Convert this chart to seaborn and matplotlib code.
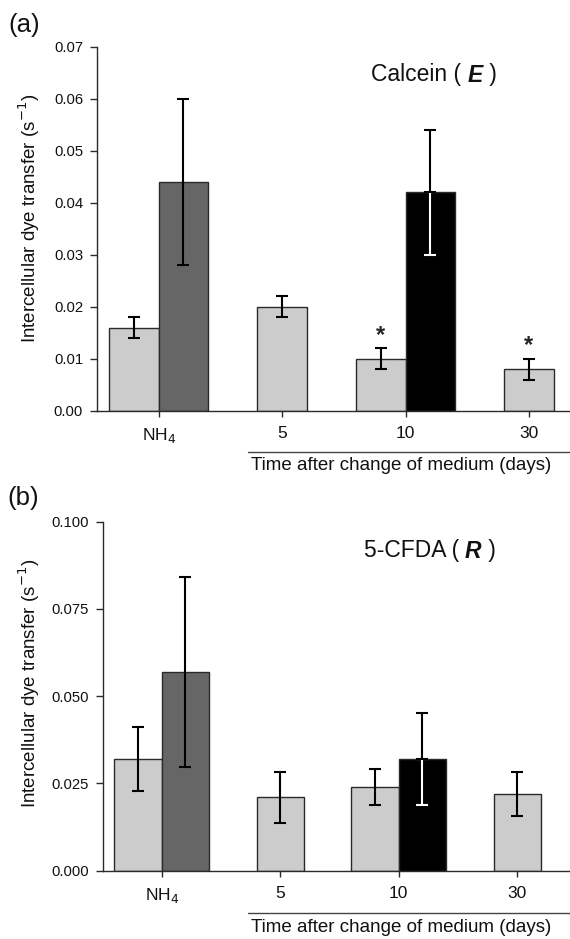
import numpy as np
import pandas as pd
import matplotlib
matplotlib.use("Agg")
import matplotlib.pyplot as plt
import seaborn as sns
from matplotlib.lines import Line2D
from matplotlib.ticker import FormatStrFormatter, FixedLocator
from matplotlib.offsetbox import TextArea, HPacker, AnnotationBbox

# ---------------- data ----------------
categories = ["NH$_4$", "5", "10", "30"]
paired_cats = [0, 2]                      # categories that carry a second bar
paired_groups = ["NH4 second", "day10 second"]
single_group = "single"

# Panel (a): Calcein (E)
a_single = [0.016, 0.020, 0.010, 0.008]
a_single_err = [0.002, 0.002, 0.002, 0.002]
a_paired = [0.044, 0.042]
a_paired_err = [0.016, 0.012]
a_signif = [False, False, True, True]
a_yticks = [0.00, 0.01, 0.02, 0.03, 0.04, 0.05, 0.06, 0.07]

# Panel (b): 5-CFDA (R)
b_single = [0.032, 0.021, 0.024, 0.022]
b_single_err = [0.0093, 0.0072, 0.0052, 0.0062]
b_paired = [0.057, 0.032]
b_paired_err = [0.0272, 0.0133]
b_signif = [False, False, False, False]
b_yticks = [0.000, 0.025, 0.050, 0.075, 0.100]

palette = {single_group: "#cccccc", paired_groups[0]: "#666666", paired_groups[1]: "#000000"}

# ---------------- style ----------------
sns.set_style("ticks")
plt.rcParams["font.family"] = ["Liberation Sans", "DejaVu Sans"]

W, H = 570, 939
fig = plt.figure(figsize=(W / 100, H / 100), dpi=100)

EDGE = "#2a2a2a"


def build_frame(single, single_err, paired, paired_err):
    w = 0.4
    pair_idx = {c: j for j, c in enumerate(paired_cats)}
    rows = []
    for i, (v, e) in enumerate(zip(single, single_err)):
        if i in pair_idx:
            j = pair_idx[i]
            rows.append((i - w / 2, v, e, single_group, i))
            rows.append((i + w / 2, paired[j], paired_err[j], paired_groups[j], i))
        else:
            rows.append((float(i), v, e, single_group, i))
    return pd.DataFrame(rows, columns=["pos", "val", "err", "grp", "cat"])


def draw_panel(rect_px, xlim_right, single, single_err, paired, paired_err, signif,
               yticks, fmt, title_parts, title_xy, ylabel_xy):
    left, top, bottom = rect_px
    ax = fig.add_axes([left / W, 1 - bottom / H, 1 - left / W, (bottom - top) / H])
    df = build_frame(single, single_err, paired, paired_err)
    sns.barplot(data=df, x="pos", y="val", hue="grp", palette=palette,
                native_scale=True, width=1.0, dodge=False, errorbar=None,
                edgecolor=EDGE, linewidth=1.0, legend=False, ax=ax, zorder=2)
    for _, r in df.iterrows():
        if r["grp"] == paired_groups[1]:
            ax.errorbar(r["pos"], r["val"], yerr=[[r["err"]], [0]], fmt="none",
                        ecolor="white", elinewidth=1.5, capsize=4, capthick=1.5, zorder=3)
            ax.errorbar(r["pos"], r["val"], yerr=[[0], [r["err"]]], fmt="none",
                        ecolor="black", elinewidth=1.5, capsize=4, capthick=1.5, zorder=3)
        else:
            ax.errorbar(r["pos"], r["val"], yerr=r["err"], fmt="none",
                        ecolor="black", elinewidth=1.5, capsize=4, capthick=1.5, zorder=3)
        if r["grp"] == single_group and signif[int(r["cat"])]:
            ax.annotate("*", (r["pos"], r["val"] + r["err"]), xytext=(0, 1),
                        textcoords="offset points", ha="center", va="bottom",
                        fontsize=17, fontweight="bold")
    ax.set_xlim(-0.5, xlim_right)
    ax.set_ylim(yticks[0], yticks[-1])
    ax.xaxis.set_major_locator(FixedLocator(range(len(categories))))
    ax.set_xticklabels(categories)
    ax.yaxis.set_major_locator(FixedLocator(yticks))
    ax.yaxis.set_major_formatter(FormatStrFormatter(fmt))
    ax.set_xlabel("")
    ax.set_ylabel("")
    for s in ["top", "right"]:
        ax.spines[s].set_visible(False)
    for s in ["left", "bottom"]:
        ax.spines[s].set_color(EDGE)
        ax.spines[s].set_linewidth(1.0)
    ax.tick_params(axis="y", direction="out", length=5, width=1, color=EDGE,
                   labelsize=10.7, pad=5, labelcolor="#111111")
    ax.tick_params(axis="x", direction="out", length=4, width=1, color=EDGE,
                   labelsize=12.5, pad=7, labelcolor="#111111")
    ax.set_facecolor("white")
    # y label
    fig.text(ylabel_xy[0] / W, 1 - ylabel_xy[1] / H,
             "Intercellular dye transfer (s$^{-1}$)", rotation=90,
             ha="center", va="center", fontsize=13.5, color="#111111")
    # title inside panel
    txt = [TextArea(p, textprops=dict(size=16.5, color="#111111", **kw)) for p, kw in title_parts]
    box = HPacker(children=txt, align="baseline", pad=0, sep=0)
    ab = AnnotationBbox(box, (title_xy[0] / W, 1 - title_xy[1] / H), xycoords="figure fraction",
                        frameon=False, box_alignment=(0.5, 0.5))
    fig.add_artist(ab)
    return ax


ax_a = draw_panel((97, 47, 410.7), 3.333, a_single, a_single_err, a_paired, a_paired_err,
                  a_signif, a_yticks, "%.2f",
                  [("Calcein ( ", {}), ("E", dict(weight="bold", style="italic")), (" )", {})],
                  (434, 75), (29, 218))
ax_b = draw_panel((102.5, 521.7, 870.7), 3.445, b_single, b_single_err, b_paired, b_paired_err,
                  b_signif, b_yticks, "%.3f",
                  [("5-CFDA ( ", {}), ("R", dict(weight="bold", style="italic")), (" )", {})],
                  (429.5, 551), (29, 683))

# panel letters
fig.text(8 / W, 1 - 25 / H, "(a)", fontsize=18.5, ha="left", va="center", color="#111111")
fig.text(7 / W, 1 - 498 / H, "(b)", fontsize=18.5, ha="left", va="center", color="#111111")

# bracket line + label for time axis
for y_line, y_text in [(451.7, 465), (913, 927)]:
    fig.add_artist(Line2D([248 / W, 1.0], [1 - y_line / H] * 2, color="#444444", lw=1.0))
    fig.text(401 / W, 1 - y_text / H, "Time after change of medium (days)",
             ha="center", va="center", fontsize=13.5, color="#111111")

fig.savefig("out.png", dpi=100, facecolor="white")
